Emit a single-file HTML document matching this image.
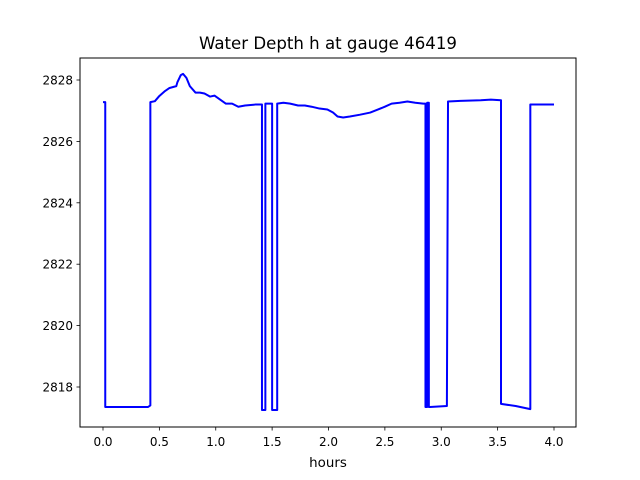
<!DOCTYPE html>
<html><head><meta charset="utf-8"><style>
body{margin:0;background:#fff}
svg{display:block;font-family:"DejaVu Sans","Liberation Sans",sans-serif}
</style></head><body>
<svg id="chart" width="640" height="480" viewBox="0 0 640 480" xmlns="http://www.w3.org/2000/svg">
<rect width="640" height="480" fill="#fff"/>
<text x="328" y="49" text-anchor="middle" font-size="16.6">Water Depth h at gauge 46419</text>
<g id="plot"></g>
<rect x="80" y="58" width="496" height="369" fill="none" stroke="#000" stroke-width="1"/>
<text x="328" y="467" text-anchor="middle" font-size="13.4">hours</text>
</svg>
<script>
const hours=[0.00,0.02,0.02,0.40,0.42,0.42,0.46,0.50,0.55,0.59,0.65,0.66,0.69,0.71,0.74,0.77,0.82,0.86,0.90,0.95,0.99,1.04,1.09,1.145,1.20,1.26,1.35,1.41,1.41,1.44,1.44,1.50,1.50,1.545,1.545,1.60,1.66,1.73,1.79,1.85,1.92,1.99,2.04,2.08,2.13,2.19,2.28,2.37,2.44,2.50,2.56,2.63,2.70,2.77,2.84,2.86,2.86,2.875,2.875,2.89,2.89,2.90,3.05,3.06,3.17,3.35,3.44,3.53,3.53,3.66,3.79,3.79,4.00];
const depth=[2827.28,2827.28,2817.35,2817.35,2817.40,2827.28,2827.31,2827.48,2827.64,2827.74,2827.80,2827.93,2828.16,2828.20,2828.07,2827.80,2827.59,2827.59,2827.56,2827.46,2827.49,2827.36,2827.23,2827.23,2827.13,2827.17,2827.20,2827.20,2817.25,2817.25,2827.23,2827.23,2817.25,2817.25,2827.23,2827.26,2827.23,2827.17,2827.17,2827.13,2827.07,2827.04,2826.94,2826.81,2826.78,2826.81,2826.87,2826.94,2827.04,2827.13,2827.23,2827.26,2827.30,2827.26,2827.23,2827.23,2817.35,2817.35,2827.26,2827.26,2817.35,2817.35,2817.38,2827.30,2827.32,2827.34,2827.36,2827.34,2817.45,2817.38,2817.28,2827.20,2827.20];
const xTicks=[0.0,0.5,1.0,1.5,2.0,2.5,3.0,3.5,4.0];
const xTickLabels=["0.0","0.5","1.0","1.5","2.0","2.5","3.0","3.5","4.0"];
const yTicks=[2818,2820,2822,2824,2826,2828];
const yTickLabels=["2818","2820","2822","2824","2826","2828"];
const X=h=>103+h*112.75;
const Y=v=>80+(2828-v)*30.7;
const NS="http://www.w3.org/2000/svg";
const g=document.getElementById('plot');
function mk(t,a){const e=document.createElementNS(NS,t);for(const k in a)e.setAttribute(k,a[k]);g.appendChild(e);return e;}
xTicks.forEach((t,i)=>{
  const l=mk('line',{x1:X(t),x2:X(t),y1:427,y2:430.5,stroke:'#000','stroke-width':0.8});
  
  
  const tx=mk('text',{x:X(t),y:446,'text-anchor':'middle','font-size':12});
  tx.textContent=xTickLabels[i];
  
  
});
yTicks.forEach((t,i)=>{
  const l=mk('line',{x1:76.5,x2:80,y1:Y(t),y2:Y(t),stroke:'#000','stroke-width':0.8});
  
  
  const tx=mk('text',{x:73,y:Y(t)+4.5,'text-anchor':'end','font-size':12});
  tx.textContent=yTickLabels[i];
  
  
});
const p=mk('polyline',{points:hours.map((h,i)=>X(h)+','+Y(depth[i])).join(' '),fill:'none',stroke:'#0000ff','stroke-width':2,'stroke-linejoin':'round'});


</script>
</body></html>
